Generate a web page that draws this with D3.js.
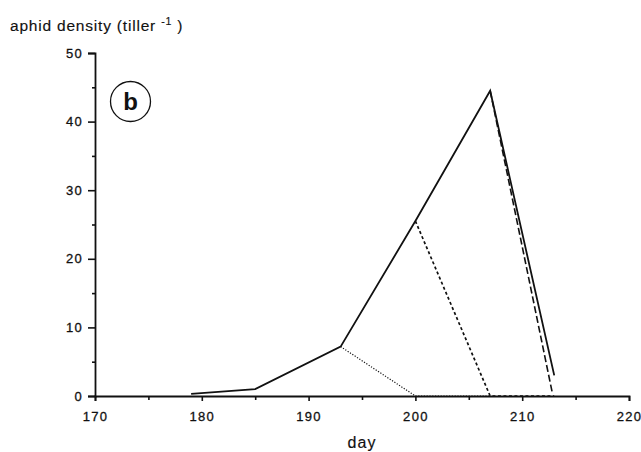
<!DOCTYPE html>
<html>
<head>
<meta charset="utf-8">
<script src="https://cdn.jsdelivr.net/npm/d3@7"></script>
<style>
  body { margin: 0; background: #fff; }
  svg text { font-family: "Liberation Sans", Arial, sans-serif; fill: #111; stroke: #111; stroke-width: 0.15px; }
  svg .tick text { stroke-width: 0.3px; }
</style>
</head>
<body>
<div id="chart"></div>
<script>
// Observed density (solid line)
const days = [179, 185, 193, 200, 207, 213];
const density = [0.3, 1.0, 7.2, 25.5, 44.5, 3.0];

// Fine dotted line: collapse after day 193
const dotDays = [193, 200, 207];
const dotDensity = [7.2, 0, 0];

// Short dashed: collapse after day 200
const shortDashDays = [200, 207, 213];
const shortDashDensity = [25.5, 0, 0];

// Long dashed: collapse after day 207
const longDashDays = [207, 212.8];
const longDashDensity = [44.5, 0.6];

const xMajor = [170, 180, 190, 200, 210, 220];
const xMinor = [175, 185, 195, 205, 215];
const yMajor = [0, 10, 20, 30, 40, 50];
const yMinor = [5, 15, 25, 35, 45];

const width = 641;
const height = 452;
const margin = { top: 53, right: 12, bottom: 56, left: 95 };

const svg = d3.select('#chart')
    .append('svg')
    .attr('width', width)
    .attr('height', height);

const x = d3.scaleLinear()
    .domain([170, 220])
    .range([margin.left, 629]);

const y = d3.scaleLinear()
    .domain([0, 50])
    .range([height - margin.bottom, margin.top]);

// Axes
svg.append('g')
    .attr('transform', `translate(0,${y(0)})`)
    .call(d3.axisBottom(x).tickValues(xMajor).tickSize(5).tickPadding(11).tickFormat(d3.format('d')));
svg.append('g')
    .attr('transform', `translate(0,${y(0)})`)
    .call(d3.axisBottom(x).tickValues(xMinor).tickSize(4).tickFormat(''))
    .select('.domain').remove();

svg.append('g')
    .attr('transform', `translate(${x(170)},0)`)
    .call(d3.axisLeft(y).tickValues(yMajor).tickSize(7).tickPadding(5).tickFormat(d3.format('d')));
svg.append('g')
    .attr('transform', `translate(${x(170)},0)`)
    .call(d3.axisLeft(y).tickValues(yMinor).tickSize(3).tickFormat(''))
    .select('.domain').remove();

svg.selectAll('.domain')
    .attr('stroke', '#111')
    .attr('stroke-width', 1.8);
svg.selectAll('.tick line')
    .attr('stroke', '#111')
    .attr('stroke-width', 1.6);
svg.selectAll('.tick text')
    .attr('font-size', 13)
    .attr('letter-spacing', '1.3px')
    .attr('font-family', '"Liberation Sans", Arial, sans-serif')
    .attr('fill', '#111');

// Lines
const line = d3.line()
    .x(d => x(d[0]))
    .y(d => y(d[1]));

const zip = (a, b) => a.map((v, i) => [v, b[i]]);

svg.append('path')
    .datum(zip(dotDays, dotDensity))
    .attr('d', line)
    .attr('fill', 'none')
    .attr('stroke', '#111')
    .attr('stroke-width', 1.2)
    .attr('stroke-dasharray', '1.2,1.6');

svg.append('path')
    .datum(zip(shortDashDays, shortDashDensity))
    .attr('d', line)
    .attr('fill', 'none')
    .attr('stroke', '#111')
    .attr('stroke-width', 1.7)
    .attr('stroke-dasharray', '3,2.5');

svg.append('path')
    .datum(zip(longDashDays, longDashDensity))
    .attr('d', line)
    .attr('fill', 'none')
    .attr('stroke', '#111')
    .attr('stroke-width', 1.6)
    .attr('stroke-dasharray', '7,3');

svg.append('path')
    .datum(zip(days, density))
    .attr('d', line)
    .attr('fill', 'none')
    .attr('stroke', '#111')
    .attr('stroke-width', 1.8)
    .attr('stroke-linejoin', 'miter');

// Axis titles
const title = svg.append('text')
    .attr('x', 10)
    .attr('y', 31)
    .attr('font-size', 15.5)
    .attr('letter-spacing', '0.8px');
title.append('tspan').text('aphid density (tiller ');
title.append('tspan')
    .attr('dy', -6)
    .attr('font-size', 10.5)
    .text('-1');
title.append('tspan')
    .attr('dy', 6)
    .text(' )');

svg.append('text')
    .attr('x', (x(170) + x(220)) / 2)
    .attr('y', 448)
    .attr('text-anchor', 'middle')
    .attr('font-size', 16)
    .attr('letter-spacing', '1px')
    .text('day');

// Panel label
svg.append('circle')
    .attr('cx', 130.5)
    .attr('cy', 101.5)
    .attr('r', 20)
    .attr('fill', 'none')
    .attr('stroke', '#111')
    .attr('stroke-width', 1.3);
svg.append('text')
    .attr('x', 130.5)
    .attr('y', 110)
    .attr('text-anchor', 'middle')
    .attr('font-size', 24)
    .attr('font-weight', 'bold')
    .style('stroke-width', '0px')
    .text('b');
</script>
</body>
</html>
